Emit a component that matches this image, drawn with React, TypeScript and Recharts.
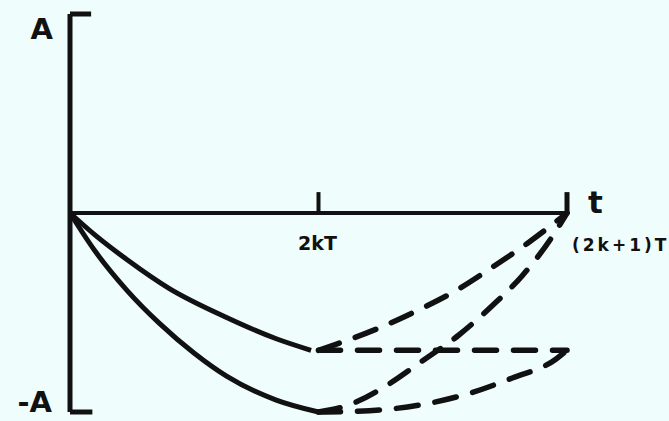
import { LineChart, Line, XAxis, YAxis, ReferenceLine, ReferenceDot } from "recharts";

// x in units of T from the start of the period, y in units of A
const upperSolid = [
  { x: 0, y: 0 },
  { x: 0.1, y: -0.11 },
  { x: 0.23, y: -0.235 },
  { x: 0.4, y: -0.38 },
  { x: 0.63, y: -0.525 },
  { x: 0.83, y: -0.632 },
  { x: 0.97, y: -0.69 },
];

const lowerSolid = [
  { x: 0, y: 0 },
  { x: 0.1, y: -0.19 },
  { x: 0.23, y: -0.39 },
  { x: 0.36, y: -0.555 },
  { x: 0.5, y: -0.705 },
  { x: 0.63, y: -0.82 },
  { x: 0.83, y: -0.94 },
  { x: 1, y: -1 },
];

const upperReturn = [
  { x: 1, y: -0.69 },
  { x: 1.07, y: -0.66 },
  { x: 1.23, y: -0.585 },
  { x: 1.39, y: -0.495 },
  { x: 1.55, y: -0.392 },
  { x: 1.71, y: -0.264 },
  { x: 1.84, y: -0.153 },
  { x: 2, y: 0 },
];

const holdLevel = [
  { x: 1, y: -0.69 },
  { x: 2, y: -0.69 },
];

const steepReturn = [
  { x: 1, y: -1 },
  { x: 1.11, y: -0.97 },
  { x: 1.28, y: -0.862 },
  { x: 1.41, y: -0.75 },
  { x: 1.565, y: -0.613 },
  { x: 1.7, y: -0.465 },
  { x: 1.82, y: -0.315 },
  { x: 1.94, y: -0.12 },
  { x: 2, y: 0 },
];

const shallowReturn = [
  { x: 1, y: -1 },
  { x: 1.11, y: -0.998 },
  { x: 1.29, y: -0.985 },
  { x: 1.45, y: -0.955 },
  { x: 1.61, y: -0.905 },
  { x: 1.78, y: -0.829 },
  { x: 1.955, y: -0.735 },
  { x: 2, y: -0.69 },
];

const ampLabels = { top: "A", bottom: "-A" };
const timeLabels = { axis: "t", mid: "2kT", end: "(2k+1)T" };

const INK = "#111";
const BG = "#effdfd";
const FONT = "'DejaVu Sans', sans-serif";

function textLabel(text: string, dx: number, dy: number, size: number, anchor: string, spacing = 0) {
  return (props: any) => {
    const vb = props.viewBox || {};
    return (
      <text
        x={(vb.x ?? 0) + dx}
        y={(vb.y ?? 0) + dy}
        fill={INK}
        fontFamily={FONT}
        fontWeight="bold"
        fontSize={size}
        textAnchor={anchor}
        letterSpacing={spacing}
      >
        {text}
      </text>
    );
  };
}

const solid = { stroke: INK, strokeWidth: 5, dot: false, activeDot: false, isAnimationActive: false, type: "monotone" as const };
const dashed = { ...solid, strokeWidth: 5.5, strokeDasharray: "22 17", strokeLinecap: "round" as const };

export default function App() {
  return (
    <div style={{ position: "absolute", left: 0, top: 0, width: 669, height: 421, background: BG }}>
      <LineChart width={669} height={421} margin={{ top: 14, right: 102, bottom: 9, left: 70 }}>
        <XAxis type="number" dataKey="x" domain={[0, 2]} hide />
        <YAxis type="number" domain={[-1, 1]} hide />

        <ReferenceLine segment={[{ x: 0, y: 1 }, { x: 0, y: -1 }]} stroke={INK} strokeWidth={5} />
        <ReferenceLine segment={[{ x: 0, y: 1 }, { x: 0.085, y: 1 }]} stroke={INK} strokeWidth={5} />
        <ReferenceLine segment={[{ x: 0, y: -1 }, { x: 0.09, y: -1 }]} stroke={INK} strokeWidth={5} />
        <ReferenceLine segment={[{ x: 0, y: 0 }, { x: 2, y: 0 }]} stroke={INK} strokeWidth={4} />
        <ReferenceLine segment={[{ x: 1, y: 0 }, { x: 1, y: 0.105 }]} stroke={INK} strokeWidth={4} />
        <ReferenceLine segment={[{ x: 2, y: 0 }, { x: 2, y: 0.105 }]} stroke={INK} strokeWidth={5} />

        <Line data={upperSolid} dataKey="y" {...solid} />
        <Line data={lowerSolid} dataKey="y" {...solid} />
        <Line data={upperReturn} dataKey="y" {...dashed} />
        <Line data={holdLevel} dataKey="y" {...dashed} type="linear" />
        <Line data={steepReturn} dataKey="y" {...dashed} />
        <Line data={shallowReturn} dataKey="y" {...dashed} />

        <ReferenceDot x={0} y={1} r={0} stroke="none" fill="none" label={textLabel(ampLabels.top, -17, 25, 29, "end")} />
        <ReferenceDot x={0} y={-1} r={0} stroke="none" fill="none" label={textLabel(ampLabels.bottom, -18, 0, 29, "end")} />
        <ReferenceDot x={2} y={0} r={0} stroke="none" fill="none" label={textLabel(timeLabels.axis, 21, 0, 31, "start")} />
        <ReferenceDot x={1} y={0} r={0} stroke="none" fill="none" label={textLabel(timeLabels.mid, -1, 37, 19, "middle")} />
        <ReferenceDot x={2} y={0} r={0} stroke="none" fill="none" label={textLabel(timeLabels.end, 5, 38, 17, "start", 3)} />
      </LineChart>
    </div>
  );
}
